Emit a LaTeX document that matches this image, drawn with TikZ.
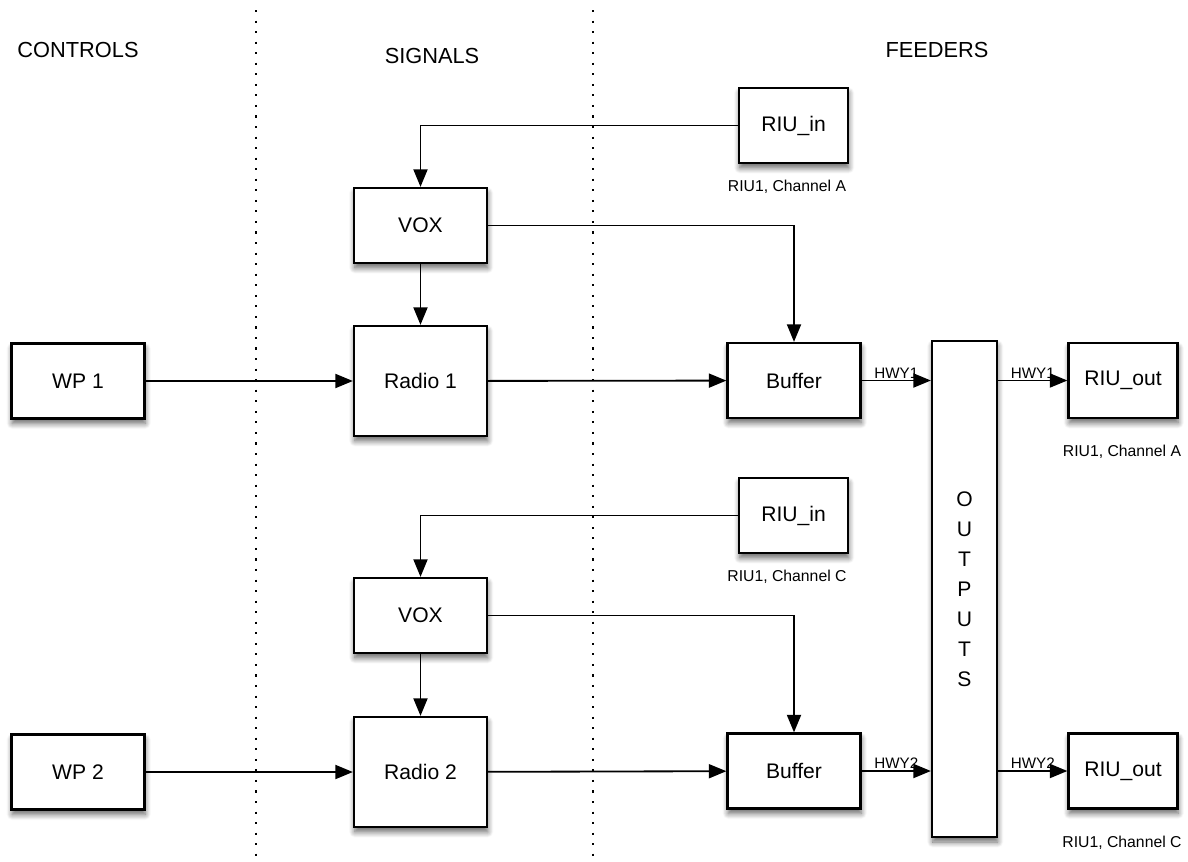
\documentclass[tikz,border=0pt]{standalone}
\usepackage{fontspec}
\setmainfont{Liberation Sans}
\usepackage{tikz}
\usetikzlibrary{positioning}
\usetikzlibrary{arrows.meta}
\usetikzlibrary{shadows.blur}

\begin{document}
\begin{tikzpicture}[x=0.025cm,y=-0.025cm,
  blk/.style={draw=black,line width=1.6pt,fill=white,inner sep=0pt,font=\fontsize{15}{18}\selectfont,blur shadow={shadow xshift=0.5pt,shadow yshift=-3.5pt,shadow blur radius=4pt,shadow blur steps=8,shadow opacity=60}},
  riu/.style={blk,minimum width=2.725cm,minimum height=1.875cm},
  unit/.style={blk,minimum width=3.325cm,minimum height=1.875cm},
  tall/.style={blk,minimum width=3.325cm,minimum height=2.75cm},
  outcol/.style={blk,minimum width=1.625cm,minimum height=12.4cm,align=center,font=\fontsize{15}{21.3}\selectfont},
  head/.style={font=\fontsize{15.5}{18}\selectfont},
  note/.style={font=\fontsize{11.2}{13}\selectfont},
  hwy/.style={font=\fontsize{10.8}{12}\selectfont,inner sep=1pt},
  conn/.style={line width=1.3pt,-{Triangle[length=12.5pt,width=10pt]}},
  sep/.style={line width=1.5pt,dash pattern=on 1.5pt off 6pt}
]
\useasboundingbox (0,0) rectangle (1188,861);

\node[head] (controls) at (78,50) {CONTROLS};
\node[head] (signals) at (432,56) {SIGNALS};
\node[head] (feeders) at (937,50) {FEEDERS};
\draw[sep] (256,10) -- (256,861);
\draw[sep] (593,10) -- (593,861);

\node[riu] (riuinA) at (793.5,125.5) {RIU\_in};
\node[note] (chA) at (787,187) {RIU1, Channel A};
\node[unit] (vox1) at (420.5,225.5) {VOX};
\node[tall] (radio1) at (420.5,381) {Radio 1};
\node[unit] (wp1) at (78,381) {WP 1};
\node[unit] (buf1) at (794,380.5) {Buffer};

\node[riu] (riuinC) at (793.5,515.5) {RIU\_in};
\node[note] (chC) at (787,577) {RIU1, Channel C};
\node[unit] (vox2) at (420.5,615.5) {VOX};
\node[tall] (radio2) at (420.5,772) {Radio 2};
\node[unit] (wp2) at (78,772) {WP 2};
\node[unit] (buf2) at (794,771) {Buffer};

\node[outcol] (outs) at (964.5,589) {O\\U\\T\\P\\U\\T\\S};
\node[riu] (rout1) at (1123,380.5) {RIU\_out};
\node[note] (outA) at (1122,452) {RIU1, Channel A};
\node[riu] (rout2) at (1123,771) {RIU\_out};
\node[note] (outC) at (1122,843) {RIU1, Channel C};

\draw[conn] (riuinA.west) -| (vox1.north);
\draw[conn] (vox1.east) -| (buf1.north);
\draw[conn] (vox1) -- (radio1);
\draw[conn] (wp1) -- (radio1);
\draw[conn] (radio1) -- (buf1);
\draw[conn] (buf1.east) -- (outs.west |- buf1.east) node[hwy,midway,above] {HWY1};
\draw[conn] (outs.east |- rout1.west) -- (rout1.west) node[hwy,midway,above] {HWY1};

\draw[conn] (riuinC.west) -| (vox2.north);
\draw[conn] (vox2.east) -| (buf2.north);
\draw[conn] (vox2) -- (radio2);
\draw[conn] (wp2) -- (radio2);
\draw[conn] (radio2) -- (buf2);
\draw[conn] (buf2.east) -- (outs.west |- buf2.east) node[hwy,midway,above] {HWY2};
\draw[conn] (outs.east |- rout2.west) -- (rout2.west) node[hwy,midway,above] {HWY2};
\end{tikzpicture}
\end{document}
